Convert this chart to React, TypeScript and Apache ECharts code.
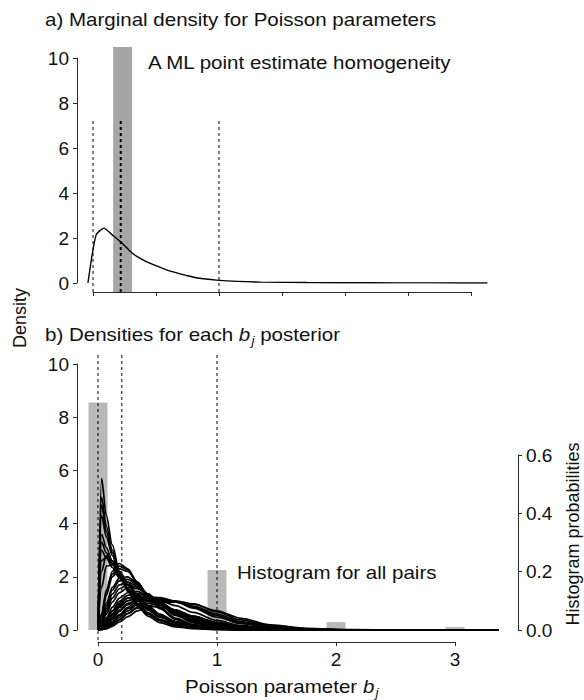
import React, { useEffect, useRef } from "react";
import * as echarts from "echarts";

// ---------- data ----------
// Panel a: marginal density curve
const TOP_X = [-0.04, 0.024, 0.087, 0.15, 0.23, 0.31, 0.4, 0.51, 0.6, 0.67, 0.75, 0.83, 0.98, 1.15, 1.33, 1.7, 2.2, 2.7, 3.13];
const TOP_Y = [0, 2.13, 2.44, 2.15, 1.78, 1.33, 1.02, 0.75, 0.55, 0.44, 0.32, 0.22, 0.13, 0.07, 0.04, 0.02, 0.01, 0.005, 0.0];
const TOP_DASH_X = [0, 0.22, 1];
const TOP_DASH_TOP = 7.2;
const TOP_SHADE = [[0.16, 0.31]];

// Panel b: posterior densities for each b_j (evaluated on a shared grid)
const GRID_X = [0, 0.03, 0.07, 0.12, 0.18, 0.25, 0.33, 0.42, 0.52, 0.65, 0.8, 1.0, 1.2, 1.45, 1.75, 2.1, 2.6, 3.37];
const POST_A1 = [0, 5.7, 4.3, 3.2, 2.2, 1.45, 0.9, 0.52, 0.28, 0.12, 0.05, 0.015, 0.005, 0, 0, 0, 0, 0];
const POST_A2 = [0, 5.0, 3.9, 3.0, 2.15, 1.5, 0.95, 0.6, 0.35, 0.16, 0.07, 0.02, 0.008, 0.002, 0, 0, 0, 0];
const POST_A3 = [0, 4.3, 3.5, 2.8, 2.1, 1.5, 1.0, 0.65, 0.4, 0.2, 0.09, 0.03, 0.01, 0.003, 0, 0, 0, 0];
const POST_A4 = [0, 3.6, 3.1, 2.6, 2.05, 1.55, 1.1, 0.75, 0.48, 0.26, 0.13, 0.05, 0.02, 0.005, 0, 0, 0, 0];
const POST_A5 = [0, 3.0, 2.7, 2.35, 1.95, 1.55, 1.15, 0.82, 0.55, 0.32, 0.17, 0.07, 0.03, 0.01, 0, 0, 0, 0];
const POST_A6 = [0, 2.2, 2.8, 2.6, 2.2, 1.7, 1.2, 0.8, 0.5, 0.26, 0.12, 0.04, 0.012, 0.003, 0, 0, 0, 0];
const POST_A7 = [0, 1.6, 2.4, 2.45, 2.2, 1.8, 1.35, 0.92, 0.6, 0.32, 0.15, 0.05, 0.016, 0.004, 0, 0, 0, 0];
const POST_A8 = [0, 4.7, 3.7, 2.9, 2.1, 1.5, 0.97, 0.62, 0.37, 0.18, 0.08, 0.025, 0.009, 0.002, 0, 0, 0, 0];
const POST_A9 = [0, 3.3, 2.9, 2.5, 2.0, 1.55, 1.12, 0.78, 0.5, 0.29, 0.15, 0.06, 0.025, 0.008, 0, 0, 0, 0];
const POST_A10 = [0, 2.6, 2.75, 2.5, 2.15, 1.72, 1.25, 0.86, 0.55, 0.3, 0.14, 0.05, 0.015, 0.004, 0, 0, 0, 0];
const POST_B1 = [0, 0.6, 1.5, 2.2, 2.5, 2.3, 1.8, 1.25, 0.8, 0.4, 0.18, 0.05, 0.015, 0.003, 0, 0, 0, 0];
const POST_B2 = [0, 0.5, 1.3, 2.0, 2.3, 2.2, 1.8, 1.3, 0.85, 0.45, 0.2, 0.06, 0.02, 0.005, 0, 0, 0, 0];
const POST_B3 = [0, 0.4, 1.0, 1.6, 1.95, 2.0, 1.75, 1.35, 0.95, 0.55, 0.27, 0.09, 0.03, 0.008, 0, 0, 0, 0];
const POST_B4 = [0, 0.3, 0.8, 1.35, 1.7, 1.8, 1.65, 1.35, 1.0, 0.6, 0.32, 0.12, 0.04, 0.01, 0, 0, 0, 0];
const POST_B5 = [0, 0.2, 0.6, 1.05, 1.4, 1.6, 1.55, 1.35, 1.05, 0.68, 0.38, 0.15, 0.05, 0.015, 0.003, 0, 0, 0];
const POST_B6 = [0, 0.15, 0.45, 0.85, 1.2, 1.4, 1.45, 1.3, 1.05, 0.72, 0.42, 0.18, 0.07, 0.02, 0.005, 0, 0, 0];
const POST_B7 = [0, 0.1, 0.3, 0.6, 0.95, 1.2, 1.3, 1.22, 1.02, 0.74, 0.46, 0.21, 0.08, 0.025, 0.006, 0, 0, 0];
const POST_B8 = [0, 0.05, 0.2, 0.45, 0.75, 1.0, 1.13, 1.12, 0.98, 0.75, 0.5, 0.24, 0.1, 0.03, 0.008, 0, 0, 0];
const POST_B9 = [0, 0.03, 0.12, 0.3, 0.55, 0.8, 0.97, 1.0, 0.93, 0.75, 0.52, 0.27, 0.12, 0.04, 0.01, 0.002, 0, 0];
const POST_B10 = [0, 0.01, 0.06, 0.18, 0.38, 0.62, 0.82, 0.9, 0.86, 0.72, 0.52, 0.29, 0.14, 0.05, 0.013, 0.003, 0, 0];
const POST_B11 = [0, 0.55, 1.4, 2.1, 2.4, 2.25, 1.8, 1.28, 0.82, 0.42, 0.19, 0.055, 0.017, 0.004, 0, 0, 0, 0];
const POST_B12 = [0, 0.35, 0.9, 1.5, 1.85, 1.9, 1.7, 1.35, 0.97, 0.58, 0.3, 0.1, 0.035, 0.009, 0, 0, 0, 0];
const POST_B13 = [0, 0.25, 0.7, 1.2, 1.55, 1.7, 1.6, 1.35, 1.02, 0.64, 0.35, 0.13, 0.045, 0.012, 0.002, 0, 0, 0];
const POST_B14 = [0, 0.12, 0.38, 0.72, 1.08, 1.3, 1.38, 1.27, 1.04, 0.73, 0.44, 0.2, 0.075, 0.022, 0.005, 0, 0, 0];
const POST_B15 = [0, 0.07, 0.25, 0.52, 0.85, 1.1, 1.22, 1.17, 1.0, 0.75, 0.48, 0.22, 0.09, 0.028, 0.007, 0, 0, 0];
const POST_D1 = [0, 0.05, 0.18, 0.4, 0.7, 0.95, 1.15, 1.24, 1.22, 1.08, 0.82, 0.48, 0.24, 0.09, 0.025, 0.005, 0, 0];
const POST_D2 = [0, 0.02, 0.08, 0.2, 0.4, 0.62, 0.85, 1.0, 1.08, 1.1, 0.98, 0.68, 0.38, 0.15, 0.045, 0.01, 0.001, 0];
const POST_D3 = [0, 0.01, 0.05, 0.14, 0.3, 0.5, 0.72, 0.9, 1.02, 1.05, 0.97, 0.72, 0.44, 0.19, 0.06, 0.015, 0.002, 0];
const POST_D4 = [0, 0.08, 0.3, 0.6, 0.9, 1.1, 1.2, 1.2, 1.12, 0.92, 0.66, 0.36, 0.17, 0.06, 0.015, 0.003, 0, 0];
const POST_D5 = [0, 0.1, 0.35, 0.7, 1.0, 1.2, 1.25, 1.18, 1.0, 0.75, 0.48, 0.24, 0.1, 0.03, 0.007, 0, 0, 0];
const POST_D6 = [0, 0.04, 0.14, 0.32, 0.58, 0.85, 1.07, 1.17, 1.17, 1.06, 0.86, 0.54, 0.28, 0.11, 0.03, 0.006, 0, 0];
const POST_D7 = [0, 0.03, 0.1, 0.25, 0.48, 0.72, 0.95, 1.08, 1.12, 1.06, 0.9, 0.6, 0.32, 0.13, 0.035, 0.008, 0.001, 0];
const POSTERIORS = [
  POST_A1, POST_A2, POST_A3, POST_A4, POST_A5, POST_A6, POST_A7, POST_A8, POST_A9, POST_A10,
  POST_B1, POST_B2, POST_B3, POST_B4, POST_B5, POST_B6, POST_B7, POST_B8, POST_B9, POST_B10,
  POST_B11, POST_B12, POST_B13, POST_B14, POST_B15,
  POST_D1, POST_D2, POST_D3, POST_D4, POST_D5, POST_D6, POST_D7,
];
const BOT_DASH_X = [0, 0.2, 1];

// Histogram for all pairs (probabilities, right axis)
const HIST_X = [0, 1, 2, 3];
const HIST_P = [0.78, 0.206, 0.027, 0.01];

// ---------- layout ----------
const FONT = '"Liberation Sans", Arial, sans-serif';
const INK = "#111";
const AXIS = "#2a2a2a";
const STRETCH = 1.14;
const TICK_FS = 19;

// panel a pixel geometry
const A_LEFT = 77, A_TOP = 58, A_BOTTOM = 283, A_RIGHT = 487;
const A_ZERO = 93, A_UNIT = 126;
// panel b pixel geometry
const B_LEFT = 77, B_TOP = 364, B_BOTTOM = 630, B_RIGHT = 500;
const B_ZERO = 98, B_UNIT = 119;
const R_AXIS_X = 518, R_TOP = 455;

function App() {
  const ref = useRef<HTMLDivElement>(null);

  useEffect(() => {
    if (!ref.current) return;
    const chart = echarts.init(ref.current, null, { renderer: "svg" });

    const leftAxis = (grid: number) => ({
      gridIndex: grid,
      type: "value",
      min: 0,
      max: 10,
      interval: 2,
      axisLine: { show: true, onZero: false, lineStyle: { color: AXIS, width: 1 } },
      axisTick: { show: true, length: 4, lineStyle: { color: AXIS, width: 1 } },
      axisLabel: { fontSize: TICK_FS, fontFamily: FONT, color: INK, margin: 8 },
      splitLine: { show: false },
    });

    const dashRender = (topVal: number | null, over: number, under: number, width: (i: number) => number) =>
      (params: any, api: any) => {
        const cs = params.coordSys;
        const x = api.value(0);
        const p = api.coord([x, topVal == null ? 0 : topVal]);
        const y1 = topVal == null ? cs.y - over : p[1];
        return {
          type: "line",
          shape: { x1: p[0], y1, x2: p[0], y2: cs.y + cs.height + under },
          style: { stroke: "#000", lineWidth: width(params.dataIndex), lineDash: [3, 3] },
        };
      };

    const option: any = {
      animation: false,
      backgroundColor: "#fff",
      grid: [
        { left: A_LEFT, top: A_TOP, width: A_RIGHT - A_LEFT, height: A_BOTTOM - A_TOP },
        { left: A_ZERO, top: A_BOTTOM - 1, width: 3 * A_UNIT, height: 10 },
        { left: B_LEFT, top: B_TOP, width: B_RIGHT - B_LEFT, height: B_BOTTOM - B_TOP },
        { left: B_ZERO, top: B_BOTTOM, width: 3 * B_UNIT, height: 12 },
        { left: B_LEFT, top: R_TOP, width: R_AXIS_X - B_LEFT, height: B_BOTTOM - R_TOP },
      ],
      xAxis: [
        { gridIndex: 0, type: "value", show: false, min: (A_LEFT - A_ZERO) / A_UNIT, max: (A_RIGHT - A_ZERO) / A_UNIT, splitLine: { show: false } },
        {
          gridIndex: 1, type: "value", min: 0, max: 3, interval: 0.5,
          axisLine: { show: true, onZero: false, lineStyle: { color: AXIS, width: 1 } },
          axisTick: { show: true, length: 4, lineStyle: { color: AXIS } },
          axisLabel: { show: false },
          splitLine: { show: false },
        },
        { gridIndex: 2, type: "value", show: false, min: (B_LEFT - B_ZERO) / B_UNIT, max: (B_RIGHT - B_ZERO) / B_UNIT, splitLine: { show: false } },
        {
          gridIndex: 3, type: "value", min: 0, max: 3, interval: 1,
          axisLine: { show: true, onZero: false, lineStyle: { color: AXIS, width: 1 } },
          axisTick: { show: true, length: 4, lineStyle: { color: AXIS } },
          axisLabel: { fontSize: TICK_FS, fontFamily: FONT, color: INK, margin: 8 },
          splitLine: { show: false },
        },
        { gridIndex: 4, type: "value", show: false, min: (B_LEFT - B_ZERO) / B_UNIT, max: (R_AXIS_X - B_ZERO) / B_UNIT, splitLine: { show: false } },
      ],
      yAxis: [
        leftAxis(0),
        { gridIndex: 1, type: "value", show: false, min: 0, max: 1, splitLine: { show: false } },
        leftAxis(2),
        { gridIndex: 3, type: "value", show: false, min: 0, max: 1, splitLine: { show: false } },
        {
          gridIndex: 4, type: "value", position: "right", min: 0, max: 0.6, interval: 0.2,
          axisLine: { show: true, onZero: false, lineStyle: { color: AXIS, width: 1 } },
          axisTick: { show: true, length: 4, lineStyle: { color: AXIS } },
          axisLabel: { fontSize: TICK_FS, fontFamily: FONT, color: INK, margin: 8, formatter: (v: number) => v.toFixed(1) },
          splitLine: { show: false },
        },
      ],
      series: [
        // panel a: shaded ML estimate band
        {
          type: "custom", xAxisIndex: 0, yAxisIndex: 0, z: 1, silent: true,
          data: TOP_SHADE,
          renderItem: (params: any, api: any) => {
            const cs = params.coordSys;
            const a = api.coord([api.value(0), 0]);
            const b = api.coord([api.value(1), 0]);
            return {
              type: "rect",
              shape: { x: a[0], y: cs.y - 11, width: b[0] - a[0], height: cs.height + 11 + 9 },
              style: { fill: "#a6a6a6" },
            };
          },
        },
        {
          type: "custom", xAxisIndex: 0, yAxisIndex: 0, z: 2, silent: true,
          data: TOP_DASH_X.map((x) => [x]),
          renderItem: dashRender(TOP_DASH_TOP, 0, 9, (i) => (i === 1 ? 2 : 1)),
        },
        {
          type: "line", xAxisIndex: 0, yAxisIndex: 0, z: 3,
          data: TOP_X.map((x, i) => [x, TOP_Y[i]]),
          showSymbol: false, symbol: "none", smooth: 0.2,
          lineStyle: { color: "#000", width: 1.4 },
        },
        // panel b: histogram bars (right axis)
        {
          type: "bar", xAxisIndex: 4, yAxisIndex: 4, z: 1, clip: false,
          data: HIST_X.map((x, i) => [x, HIST_P[i]]),
          barWidth: 19,
          itemStyle: { color: "#b9b9b9" },
        },
        {
          type: "custom", xAxisIndex: 2, yAxisIndex: 2, z: 4, silent: true,
          data: BOT_DASH_X.map((x) => [x]),
          renderItem: dashRender(null, 9, 12, () => 1),
        },
        ...POSTERIORS.map((ys) => ({
          type: "line", xAxisIndex: 2, yAxisIndex: 2, z: 3,
          data: GRID_X.map((x, i) => [x, ys[i]]),
          showSymbol: false, symbol: "none", smooth: 0.3, smoothMonotone: "x",
          lineStyle: { color: "#000", width: 1.7 },
        })),
      ],
      graphic: [
        {
          type: "text", x: 45, y: 20, scaleX: STRETCH,
          style: { text: "a) Marginal density for Poisson parameters", fontSize: 18, fontFamily: FONT, fill: INK, textVerticalAlign: "middle" },
        },
        {
          type: "text", x: 148, y: 63, scaleX: STRETCH,
          style: { text: "A ML point estimate homogeneity", fontSize: 18, fontFamily: FONT, fill: INK, textVerticalAlign: "middle" },
        },
        {
          type: "text", x: 45, y: 335, scaleX: STRETCH,
          style: {
            text: "{n|b) Densities for each }{i|b}{s|j}{n| posterior}",
            textVerticalAlign: "middle",
            rich: {
              n: { fontSize: 18, fontFamily: FONT, fill: INK, color: INK },
              i: { fontSize: 18, fontFamily: FONT, fontStyle: "italic", fill: INK, color: INK },
              s: { fontSize: 12, fontFamily: FONT, fontStyle: "italic", fill: INK, color: INK, padding: [11, 0, 0, 1] },
            },
          },
        },
        {
          type: "text", x: 237, y: 573, scaleX: STRETCH,
          style: { text: "Histogram for all pairs", fontSize: 18, fontFamily: FONT, fill: INK, textVerticalAlign: "middle" },
        },
        {
          type: "text", x: 185, y: 687, scaleX: STRETCH,
          style: {
            text: "{n|Poisson parameter }{i|b}{s|j}",
            textVerticalAlign: "middle",
            rich: {
              n: { fontSize: 18, fontFamily: FONT, fill: INK, color: INK },
              i: { fontSize: 18, fontFamily: FONT, fontStyle: "italic", fill: INK, color: INK },
              s: { fontSize: 12, fontFamily: FONT, fontStyle: "italic", fill: INK, color: INK, padding: [11, 0, 0, 1] },
            },
          },
        },
        {
          type: "text", x: 20, y: 318, rotation: Math.PI / 2,
          style: { text: "Density", fontSize: 18, fontFamily: FONT, fill: INK, textAlign: "center", textVerticalAlign: "middle" },
        },
        {
          type: "text", x: 573, y: 534, rotation: Math.PI / 2,
          style: { text: "Histogram probabilities", fontSize: 18, fontFamily: FONT, fill: INK, textAlign: "center", textVerticalAlign: "middle" },
        },
      ],
    };

    chart.setOption(option);
    return () => chart.dispose();
  }, []);

  return (
    <div
      ref={ref}
      style={{ position: "fixed", left: 0, top: 0, width: 584, height: 700, background: "#fff" }}
    />
  );
}

export default App;
